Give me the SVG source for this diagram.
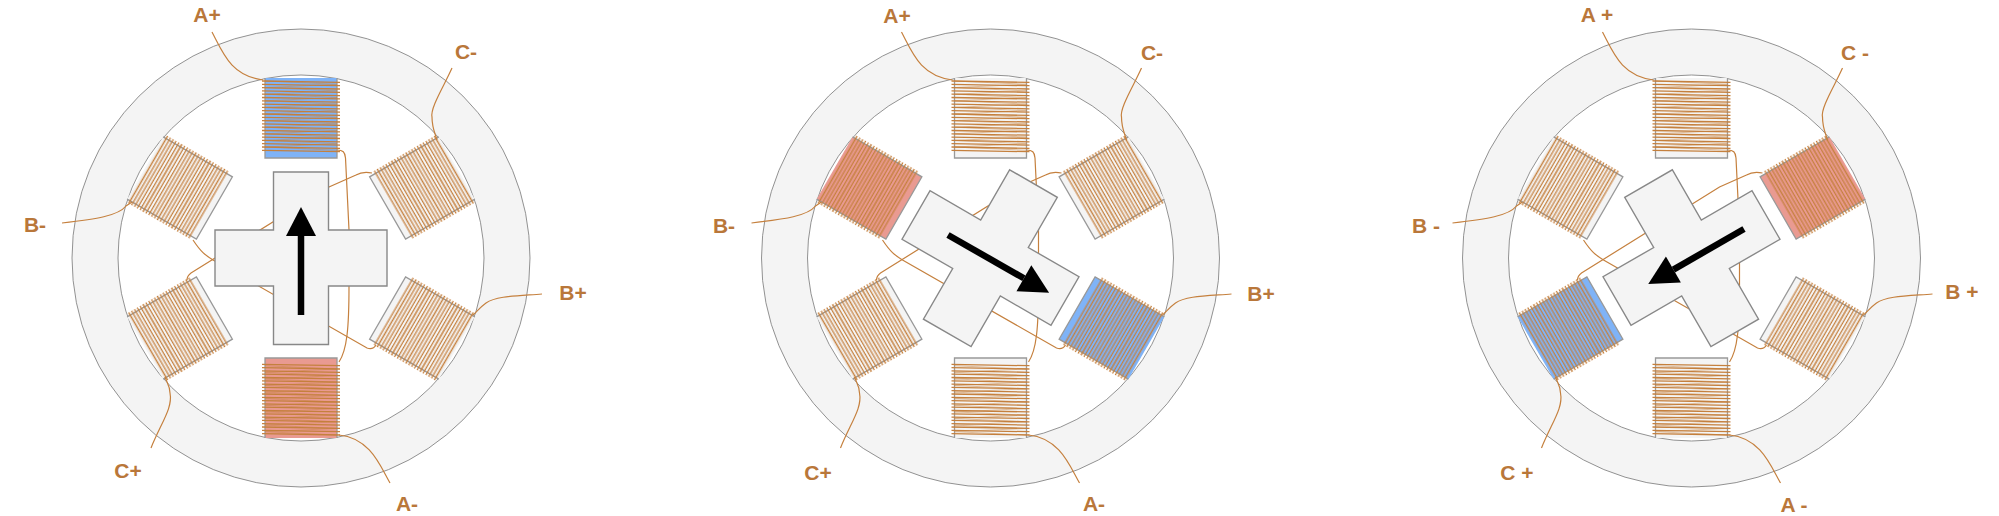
<svg xmlns="http://www.w3.org/2000/svg" width="1999" height="516" viewBox="0 0 1999 516">
<style>
.ring{fill:#f4f4f4;fill-rule:evenodd;stroke:#777;stroke-width:.8}
.pole{stroke:#999;stroke-width:1.3}
.plain{fill:#f4f4f4}.blue{fill:#7fb3f7}.red{fill:#e99a91}
.w{fill:none;stroke:#c5803e;stroke-width:1.3;filter:url(#soft)}
.thin{fill:none;stroke:#c5803e;stroke-width:.8;opacity:.6;filter:url(#soft)}
.lead{fill:none;stroke:#c5803e;stroke-width:1.2}
.rotor{fill:#f4f4f4;stroke:#888;stroke-width:1.4}
.arrow{stroke:#000;stroke-width:6.5;fill:none;marker-end:url(#head)}
text{font-family:"Liberation Sans",Arial,sans-serif;font-weight:bold;font-size:21px;fill:#b9773a;text-anchor:middle;dominant-baseline:central}
</style>
<defs>
<filter id="soft" x="-10%" y="-10%" width="120%" height="120%"><feGaussianBlur stdDeviation="0.35"/></filter>
<marker id="head" markerUnits="userSpaceOnUse" markerWidth="32" markerHeight="32" refX="1" refY="15.5" orient="auto"><path d="M1 .5L30 15.5L1 30.5Z" fill="#000"/></marker>
<path id="wiresS" class="w" d="M-39-176.500h78m-78 3.3h78m-78 3.3h78m-78 3.3h78m-78 3.3h78m-78 3.3h78m-78 3.3h78m-78 3.3h78m-78 3.3h78m-78 3.3h78m-78 3.3h78m-78 3.3h78m-78 3.3h78m-78 3.3h78m-78 3.3h78m-78 3.3h78m-78 3.3h78m-78 3.3h78m-78 3.3h78m-78 3.3h78m-78 3.3h78m-78 3.3h78"/>
<path id="wiresV" class="w" d="M-39-177l78 1.400m-78 1.900l78 1.400m-78 1.900l78 1.400m-78 1.900l78 1.400m-78 1.900l78 1.400m-78 1.900l78 1.400m-78 1.900l78 1.400m-78 1.900l78 1.400m-78 1.900l78 1.400m-78 1.900l78 1.400m-78 1.900l78 1.400m-78 1.900l78 1.400m-78 1.900l78 1.400m-78 1.900l78 1.400m-78 1.900l78 1.400m-78 1.900l78 1.400m-78 1.900l78 1.400m-78 1.900l78 1.400m-78 1.900l78 1.400m-78 1.900l78 1.400m-78 1.900l78 1.400m-78 1.900l78 1.400"/>
<g id="coilS"><path class="pole" d="M-36-180V-100H36V-180"/><use href="#wiresS"/></g>
<g id="coilV"><path class="pole" d="M-36-180V-100H36V-180"/><use href="#wiresV"/><path class="thin" d="M-36-177l72 3.3l-72 3.3l72 3.3l-72 3.3l72 3.3l-72 3.3l72 3.3l-72 3.3l72 3.3l-72 3.3l72 3.3l-72 3.3l72 3.3l-72 3.3l72 3.3l-72 3.3l72 3.3l-72 3.3l72 3.3l-72 3.3l72 3.3"/></g>
<path id="ringShape" class="ring" d="M-229 0A229 229 0 1 1 229 0A229 229 0 1 1-229 0ZM-183 0A183 183 0 1 0 183 0A183 183 0 1 0-183 0Z"/>
<path id="cross" class="rotor" d="M-27.500-86H27.500V-28H86V28H27.500V86.500H-27.500V28H-86V-28H-27.500Z"/>
<g id="allWires" class="lead">
<path d="M36-108C42-108 44-106 44.500-100L48-28V28C48 70 46 92 38 104"/>
<path d="M71-85C66-86 60-86 55-83L28-71L-110 15Q-114 18-114 22"/>
<path d="M-108-18C-100-6-96-3-88 2L66 90Q72 92 75 87"/>
<path d="M-89-226C-78-205-70-182-38-178"/>
<path d="M151-190C143-172 129-150 131-141C131-130 134-125 136-118"/>
<path d="M-239-35C-205-39-183-42-175-52L-169-56"/>
<path d="M89 225C80 210 70 180 38 177"/>
<path d="M-150 190C-140 165-128 150-131 135C-131 128-134 125-136 119"/>
<path d="M241 36C215 38 195 38 185 45C178 50 176 54 172 57"/>
</g>
</defs>

<g id="motor1" transform="translate(301 258)">
<g id="m1-stator"><use href="#ringShape"/></g>
<g id="m1-coil-a-plus"><use href="#coilV" class="blue"/></g>
<g id="m1-coil-c-minus" transform="rotate(60)"><use href="#coilS" class="plain"/></g>
<g id="m1-coil-b-plus" transform="rotate(120)"><use href="#coilS" class="plain"/></g>
<g id="m1-coil-a-minus" transform="rotate(180)"><use href="#coilV" class="red"/></g>
<g id="m1-coil-c-plus" transform="rotate(240)"><use href="#coilS" class="plain"/></g>
<g id="m1-coil-b-minus" transform="rotate(300)"><use href="#coilS" class="plain"/></g>
<g id="m1-connectors"><use href="#allWires"/></g>
<g id="m1-rotor"><use href="#cross"/></g>
</g>

<g id="motor2" transform="translate(990.500 258)">
<g id="m2-stator"><use href="#ringShape"/></g>
<g id="m2-coil-a-plus"><use href="#coilV" class="plain"/></g>
<g id="m2-coil-c-minus" transform="rotate(60)"><use href="#coilS" class="plain"/></g>
<g id="m2-coil-b-plus" transform="rotate(120)"><use href="#coilS" class="blue"/></g>
<g id="m2-coil-a-minus" transform="rotate(180)"><use href="#coilV" class="plain"/></g>
<g id="m2-coil-c-plus" transform="rotate(240)"><use href="#coilS" class="plain"/></g>
<g id="m2-coil-b-minus" transform="rotate(300)"><use href="#coilS" class="red"/></g>
<g id="m2-connectors"><use href="#allWires"/></g>
<g id="m2-rotor" transform="rotate(30)"><use href="#cross"/></g>
</g>

<g id="motor3" transform="translate(1691.500 258)">
<g id="m3-stator"><use href="#ringShape"/></g>
<g id="m3-coil-a-plus"><use href="#coilV" class="plain"/></g>
<g id="m3-coil-c-minus" transform="rotate(60)"><use href="#coilS" class="red"/></g>
<g id="m3-coil-b-plus" transform="rotate(120)"><use href="#coilS" class="plain"/></g>
<g id="m3-coil-a-minus" transform="rotate(180)"><use href="#coilV" class="plain"/></g>
<g id="m3-coil-c-plus" transform="rotate(240)"><use href="#coilS" class="blue"/></g>
<g id="m3-coil-b-minus" transform="rotate(300)"><use href="#coilS" class="plain"/></g>
<g id="m3-connectors"><use href="#allWires"/></g>
<g id="m3-rotor" transform="rotate(-30)"><use href="#cross"/></g>
</g>

<g id="arrows">
<line class="arrow" x1="301" y1="315" x2="301" y2="236"/>
<line class="arrow" x1="948" y1="235" x2="1023.900" y2="278.300"/>
<line class="arrow" x1="1744" y1="229" x2="1673.400" y2="269.600"/>
</g>

<g id="labels">
<text x="207" y="14">A+</text><text x="466" y="51">C-</text><text x="35" y="224">B-</text><text x="573" y="292">B+</text><text x="128" y="470">C+</text><text x="407" y="503">A-</text>
<text x="897" y="15">A+</text><text x="1152" y="52">C-</text><text x="724" y="225">B-</text><text x="1261" y="293">B+</text><text x="818" y="472">C+</text><text x="1094" y="503">A-</text>
<text x="1597" y="14">A +</text><text x="1855" y="52">C -</text><text x="1426" y="225">B -</text><text x="1962" y="291">B +</text><text x="1517" y="472">C +</text><text x="1794" y="504">A -</text>
</g>
</svg>
